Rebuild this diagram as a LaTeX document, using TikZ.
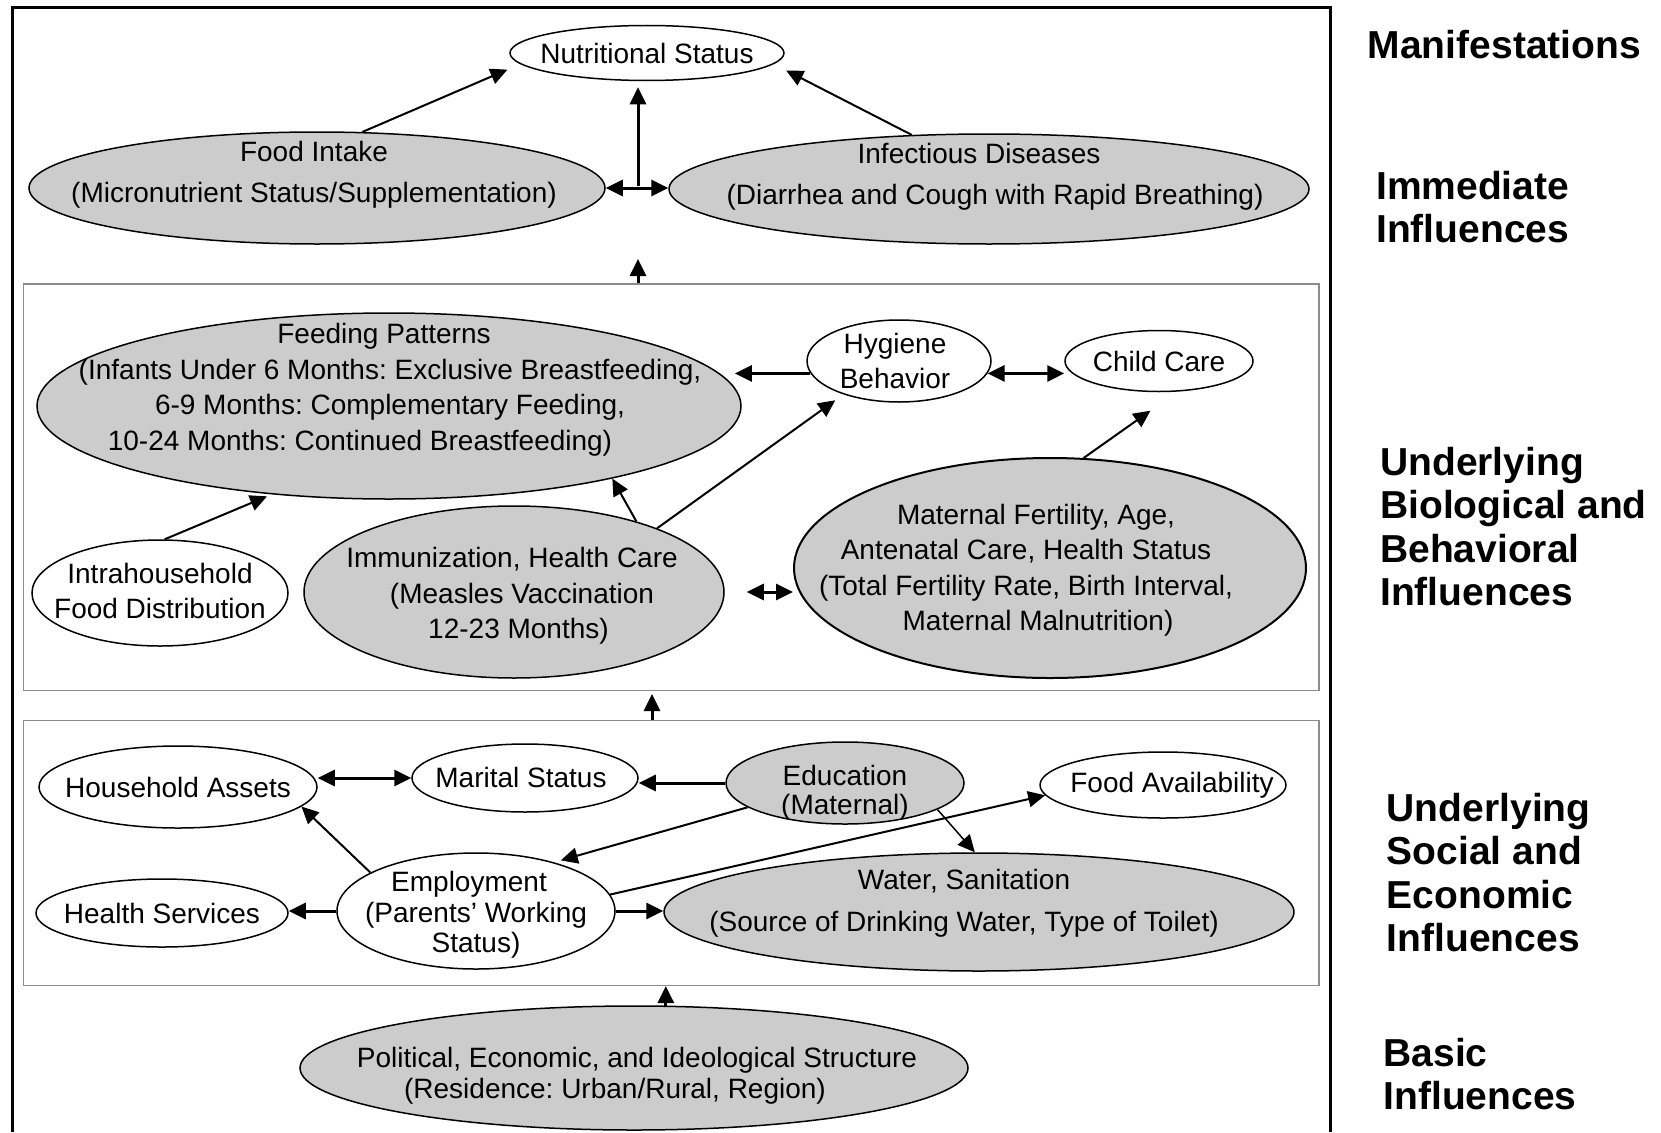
\documentclass[tikz,border=0pt]{standalone}
\usepackage{fontspec}
\setmainfont{Liberation Sans}
\usetikzlibrary{shapes.geometric,arrows.meta}
\definecolor{FillGray}{RGB}{204,204,204}
\definecolor{BoxGray}{RGB}{140,140,140}
\frenchspacing

\begin{document}
\begin{tikzpicture}[x=1pt,y=-1pt,>={Triangle[length=17pt,width=16pt]}]
    \tikzset{
      Vertex/.style = {ellipse, draw, line width=1.5pt, inner sep=0pt, fill=white},
      GrayVertex/.style = {Vertex, fill=FillGray},
      Txt/.style = {align=center, inner sep=0pt, font=\fontsize{28}{35.5}\selectfont},
      Box/.style = {draw=BoxGray, line width=1.5pt, inner sep=0pt},
      Side/.style = {anchor=west, align=left, inner sep=0pt, font=\fontsize{39}{43.4}\selectfont\bfseries},
      EdgeStyle/.style = {->, line width=2pt},
      ThickEdge/.style = {->, line width=3pt},
      BiEdge/.style = {<->, line width=3pt}
    }
    \useasboundingbox (0,0) rectangle (1661,1132);
    \draw[line width=3pt] (12.7,1132) -- (12.7,7.4) -- (1330.5,7.4) -- (1330.5,1132);

    \node[Box, minimum width=1295.5pt, minimum height=406.8pt] (bio) at (671,487.3) {};
    \node[Box, minimum width=1295.5pt, minimum height=265pt] (soc) at (671,852.75) {};

    \node[Vertex, minimum width=274pt, minimum height=55pt, label={[Txt]center:{Nutritional Status}}] (NS) at (647,53) {};
    \node[GrayVertex, minimum width=576pt, minimum height=112pt, label={[Txt,xshift=-3,yshift=13]center:{Food Intake\\[6pt](Micronutrient Status/Supplementation)}}] (FI) at (317,188) {};
    \node[GrayVertex, minimum width=640pt, minimum height=110pt, label={[Txt,xshift=6,yshift=12]center:{Infectious Diseases\hspace*{32pt}\\[6pt](Diarrhea and Cough with Rapid Breathing)}}] (ID) at (989,189) {};

    \node[GrayVertex, minimum width=704pt, minimum height=186pt, label={[Txt,xshift=1,yshift=16]center:{Feeding Patterns\hspace*{12pt}\\(Infants Under 6 Months: Exclusive Breastfeeding,\\6-9 Months: Complementary Feeding,\hspace*{64pt}\\10-24 Months: Continued Breastfeeding)\hspace*{60pt}}}] (FP) at (389,406) {};
    \node[Vertex, minimum width=184pt, minimum height=82pt, label={[Txt,xshift=-4]center:{Hygiene\\Behavior}}] (HB) at (899,361) {};
    \node[Vertex, minimum width=188pt, minimum height=61pt, label={[Txt]center:{Child Care}}] (CC) at (1159,361) {};
    \node[Vertex, minimum width=256pt, minimum height=106pt, label={[Txt,yshift=2]center:{Intrahousehold\\Food Distribution}}] (IF) at (160,593) {};
    \node[GrayVertex, minimum width=420pt, minimum height=172pt, label={[Txt,xshift=-2,yshift=-4]center:{Immunization, Health Care\\\hspace*{20pt}(Measles Vaccination\\\hspace*{13pt}12-23 Months)}}] (IM) at (514,592) {};
    \node[GrayVertex, line width=2pt, minimum width=512pt, minimum height=220pt, label={[Txt,xshift=-24,yshift=-2]center:{\hspace*{20pt}Maternal Fertility, Age,\\Antenatal Care, Health Status\\(Total Fertility Rate, Birth Interval,\\\hspace*{24pt}Maternal Malnutrition)}}] (MF) at (1050,568) {};

    \node[Vertex, minimum width=278pt, minimum height=82pt, label={[Txt]center:{Household Assets}}] (HA) at (178,787) {};
    \node[Vertex, minimum width=226pt, minimum height=68pt, label={[Txt,xshift=-4,yshift=1]center:{Marital Status}}] (MS) at (525,778) {};
    \node[GrayVertex, minimum width=238pt, minimum height=82pt, label={[Txt,yshift=-10,font=\fontsize{28}{28.6}\selectfont]center:{Education\\(Maternal)}}] (ED) at (845,783) {};
    \node[Vertex, minimum width=246pt, minimum height=66pt, label={[Txt,xshift=9]center:{Food Availability}}] (FA) at (1163,785) {};
    \node[Vertex, minimum width=252pt, minimum height=68pt, label={[Txt]center:{Health Services}}] (HS) at (162,913) {};
    \node[Vertex, minimum width=278pt, minimum height=116pt, label={[Txt,yshift=-4,font=\fontsize{28}{30.7}\selectfont]center:{Employment\hspace*{14pt}\\(Parents' Working\\Status)}}] (EM) at (476,911) {};
    \node[GrayVertex, minimum width=630pt, minimum height=118pt, label={[Txt,xshift=-15,yshift=9]center:{Water, Sanitation\\[6pt](Source of Drinking Water, Type of Toilet)}}] (WS) at (979,912) {};

    \node[GrayVertex, minimum width=668pt, minimum height=124pt, label={[Txt,xshift=3,yshift=-8,font=\fontsize{28}{30.7}\selectfont]center:{Political, Economic, and Ideological Structure\\(Residence: Urban/Rural, Region)\hspace*{44pt}}}] (PE) at (634,1068) {};

    \node[Side] (manif) at (1367.6,44.5) {Manifestations};
    \node[Side] (immed) at (1376,207) {Immediate\\Influences};
    \node[Side] (biol) at (1380,526.4) {Underlying\\Biological and\\Behavioral\\Influences};
    \node[Side] (socio) at (1386.6,872.4) {Underlying\\Social and\\Economic\\Influences};
    \node[Side] (basic) at (1383.4,1074.2) {Basic\\Influences};

    \coordinate (mid) at (638,186);
    \coordinate (tip1) at (638,259);
    \coordinate (tip2) at (652,694);

    \draw[EdgeStyle, shorten >=14pt] (FI.51) -- (NS.185);
    \draw[EdgeStyle, shorten >=14pt] (ID.145) -- (NS.355);
    \draw[ThickEdge, shorten >=6pt] (mid) -- (mid |- NS.south);
    \draw[BiEdge] (FI.east) -- (FI.east -| ID.west);
    \draw[ThickEdge] (tip1 |- bio.north) -- (tip1);

    \draw[ThickEdge, shorten >=-7pt] (HB.188) -- (HB.188 -| FP.east);
    \draw[BiEdge] (HB.352) -- (HB.352 -| CC.west);
    \draw[EdgeStyle, shorten >=5pt] (IF.85) -- (FP.217);
    \draw[EdgeStyle] (IM.30) -- (FP.342);
    \draw[EdgeStyle, shorten >=10pt] (IM.24) -- (HB.211);
    \draw[EdgeStyle, shorten >=33pt] (MF.73) -- (CC.301);
    \draw[BiEdge, shorten <=22pt] (IM.east) -- (IM.east -| MF.west);
    \draw[ThickEdge] (tip2 |- soc.north) -- (tip2);

    \draw[BiEdge] (MS.west -| HA.east) -- (MS.west);
    \draw[ThickEdge] (ED.west) -- (ED.west -| MS.east);
    \draw[EdgeStyle, shorten >=7pt] (ED.194) -- (EM.32);
    \draw[EdgeStyle, line width=1.5pt] (ED.344) -- (WS.94);
    \draw[EdgeStyle] (EM.7) -- (FA.185);
    \draw[EdgeStyle] (EM.160) -- (HA.351);
    \draw[ThickEdge] (EM.west) -- (EM.west -| HS.east);
    \draw[ThickEdge] (EM.east) -- (EM.east -| WS.west);
    \draw[ThickEdge] (PE.63) -- (PE.63 |- soc.south);
\end{tikzpicture}
\end{document}
